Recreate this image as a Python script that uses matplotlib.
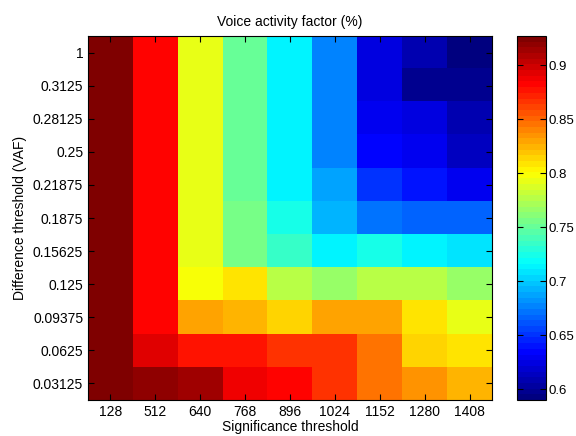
import numpy as np
import matplotlib.pyplot as plt
from matplotlib.colors import LinearSegmentedColormap

plt.rcParams['font.family'] = ['Liberation Sans', 'DejaVu Sans']
plt.rcParams['font.size'] = 10

# Significance threshold (columns) and difference threshold (rows, top to bottom)
sig_labels = ["128", "512", "640", "768", "896", "1024", "1152", "1280", "1408"]
diff_labels = ["1", "0.3125", "0.28125", "0.25", "0.21875", "0.1875",
               "0.15625", "0.125", "0.09375", "0.0625", "0.03125"]

# voice activity factor, one row per difference threshold
row_1       = [0.925, 0.882, 0.795, 0.750, 0.716, 0.679, 0.622, 0.606, 0.592]
row_0_3125  = [0.925, 0.882, 0.795, 0.750, 0.716, 0.679, 0.622, 0.600, 0.596]
row_0_28125 = [0.925, 0.882, 0.795, 0.750, 0.716, 0.679, 0.627, 0.622, 0.611]
row_0_25    = [0.925, 0.882, 0.795, 0.750, 0.716, 0.679, 0.637, 0.627, 0.613]
row_0_21875 = [0.925, 0.882, 0.795, 0.753, 0.716, 0.690, 0.648, 0.642, 0.632]
row_0_1875  = [0.925, 0.882, 0.795, 0.754, 0.726, 0.695, 0.669, 0.666, 0.664]
row_0_15625 = [0.925, 0.882, 0.795, 0.758, 0.737, 0.716, 0.726, 0.716, 0.711]
row_0_125   = [0.925, 0.882, 0.800, 0.809, 0.775, 0.764, 0.775, 0.775, 0.764]
row_0_09375 = [0.925, 0.882, 0.832, 0.826, 0.812, 0.827, 0.827, 0.806, 0.795]
row_0_0625  = [0.925, 0.895, 0.878, 0.875, 0.864, 0.864, 0.843, 0.812, 0.806]
row_0_03125 = [0.925, 0.918, 0.913, 0.888, 0.882, 0.869, 0.848, 0.833, 0.822]

vaf = np.array([row_1, row_0_3125, row_0_28125, row_0_25, row_0_21875,
                row_0_1875, row_0_15625, row_0_125, row_0_09375,
                row_0_0625, row_0_03125])

# MATLAB-style jet with 64 levels
jet64 = LinearSegmentedColormap.from_list(
    "mjet",
    [(0, (0, 0, 0.5)), (1 / 8, (0, 0, 1)), (3 / 8, (0, 1, 1)),
     (5 / 8, (1, 1, 0)), (7 / 8, (1, 0, 0)), (1, (0.5, 0, 0))],
    N=64)

fig = plt.figure(figsize=(5.76, 4.36), dpi=100)
ax = fig.add_axes([88 / 576, 36 / 436, 404 / 576, 364 / 436])
cax = fig.add_axes([517 / 576, 36 / 436, 29 / 576, 364 / 436])

im = ax.imshow(vaf, cmap=jet64, vmin=0.590, vmax=0.927,
               aspect="auto", interpolation="nearest")

ax.set_xticks(range(len(sig_labels)))
ax.set_xticklabels(sig_labels)
ax.set_yticks(range(len(diff_labels)))
ax.set_yticklabels(diff_labels)
ax.tick_params(direction="in", top=True, right=True, length=4, width=0.8)
ax.set_xlabel("Significance threshold", labelpad=1)
ax.set_ylabel("Difference threshold (VAF)")
ax.set_title("Voice activity factor (%)", fontsize=10, pad=7)

cb = fig.colorbar(im, cax=cax)
cb.set_ticks([0.6, 0.65, 0.7, 0.75, 0.8, 0.85, 0.9])
cb.set_ticklabels(["0.6", "0.65", "0.7", "0.75", "0.8", "0.85", "0.9"])
cax.tick_params(direction="in", left=True, right=True, length=4, width=0.8,
                pad=2, labelsize=9.5)
cb.outline.set_linewidth(0.8)

fig.savefig("out.png", dpi=100)
